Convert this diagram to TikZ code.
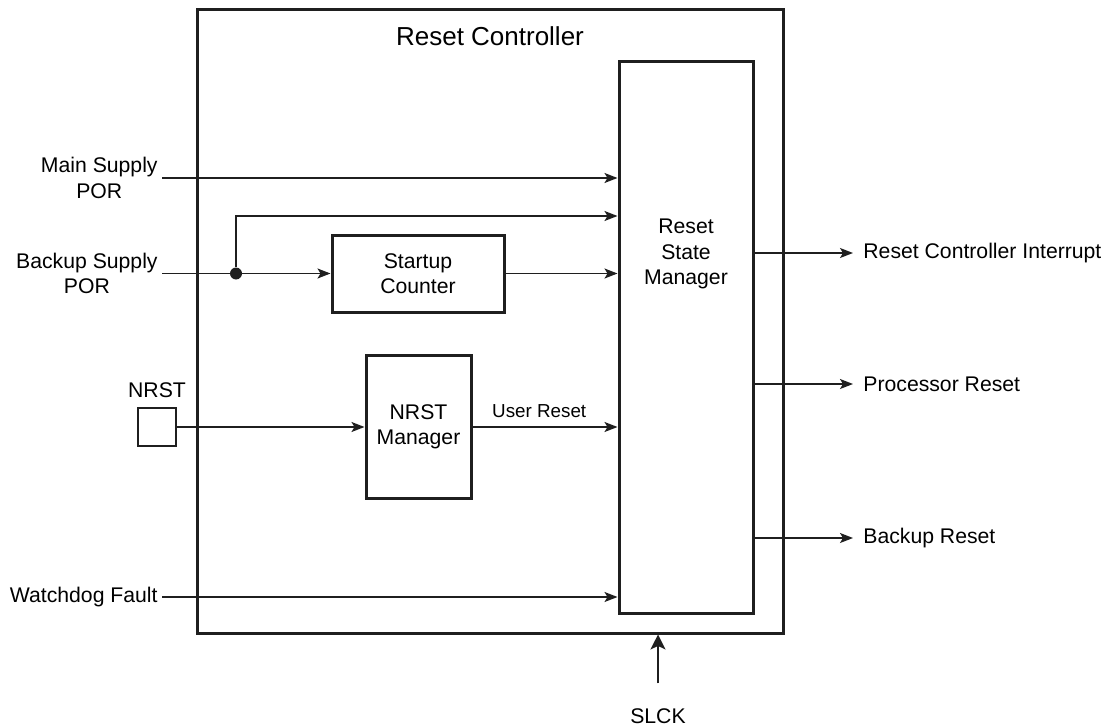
\documentclass[tikz,border=0pt]{standalone}
\usepackage{fontspec}
\setmainfont{Liberation Sans}
\usepackage{tikz}
\usetikzlibrary{arrows.meta,positioning}

\begin{document}
\begin{tikzpicture}[
    x=0.5pt,
    y=-0.5pt,
    >={Stealth[length=6.5pt,width=5pt,inset=1.5pt]},
    block/.style={draw=black!88, line width=1.5pt, inner sep=0pt, align=center, font=\fontsize{10.6}{12.6}\selectfont},
    sigtext/.style={inner sep=2pt, align=center, font=\fontsize{10.6}{12.9}\selectfont},
    outtext/.style={inner sep=5pt, anchor=west, font=\fontsize{10.6}{12.9}\selectfont},
    signal/.style={draw=black!88, line width=0.75pt}
]
\useasboundingbox (0,0) rectangle (1112,727);
% blocks
\node[block, minimum width=293pt, minimum height=311.5pt] (rc) at (490,321.5) {};
\node[font=\fontsize{13}{15}\selectfont] (title) at (490,36) {Reset Controller};
\node[block, minimum width=67pt, minimum height=275.5pt] (rsm) at (686,337.5) {};
\node[align=center, font=\fontsize{10.6}{12.6}\selectfont] (rsmtext) at (686,254) {Reset\\State\\Manager};
\node[block, minimum width=86pt, minimum height=38.5pt] (su) at (418,273.5) {Startup\\Counter};
\node[block, minimum width=52.5pt, minimum height=71.5pt] (nm) at (418.5,426.5) {NRST\\Manager};
\node[draw=black!88, line width=1.2pt, minimum size=19pt, inner sep=0pt] (pad) at (157,427) {};
\node[font=\fontsize{10.6}{12.9}\selectfont] (padtext) at (157,390) {NRST};
% inputs
\node[sigtext, anchor=east] (ms) at (162,178) {Main Supply\\POR};
\node[sigtext, anchor=east] (bs) at (162,273.5) {Backup Supply\\POR};
\node[sigtext, anchor=east] (wd) at (162,597) {Watchdog Fault};
\node[circle, fill=black!88, minimum size=6pt, inner sep=0pt] (dot) at (236,273.5) {};
\coordinate (branch) at (236,216);
\draw[signal, ->] (ms.east) -- (rsm.west |- ms.east);
\draw[signal, ->] (bs.east) -- (su.west);
\draw[signal, ->] (dot) -- (branch) -- (rsm.west |- branch);
\draw[signal, ->] (su.east) -- (rsm.west |- su.east);
\draw[signal, ->] (pad.east) -- (nm.west |- pad.east);
\draw[signal, ->] (nm.east |- pad.east) -- node[pos=0.46, above=1pt, font=\fontsize{9.4}{11}\selectfont] {User Reset} (rsm.west |- pad.east);
\draw[signal, ->] (wd.east) -- (rsm.west |- wd.east);
% outputs
\node[outtext] (irq) at (853,253) {Reset Controller Interrupt};
\node[outtext] (proc) at (853,384) {Processor Reset};
\node[outtext] (bkp) at (853,538) {Backup Reset};
\draw[signal, ->] (rsm.east |- irq.west) -- (irq.west);
\draw[signal, ->] (rsm.east |- proc.west) -- (proc.west);
\draw[signal, ->] (rsm.east |- bkp.west) -- (bkp.west);
% clock
\node[font=\fontsize{10.6}{12.9}\selectfont] (slck) at (658,716) {SLCK};
\draw[signal, -{Stealth[length=7.5pt,width=7.5pt,inset=1.8pt]}] ([yshift=9pt]slck.north) -- (slck.north |- rc.south);
\end{tikzpicture}
\end{document}
